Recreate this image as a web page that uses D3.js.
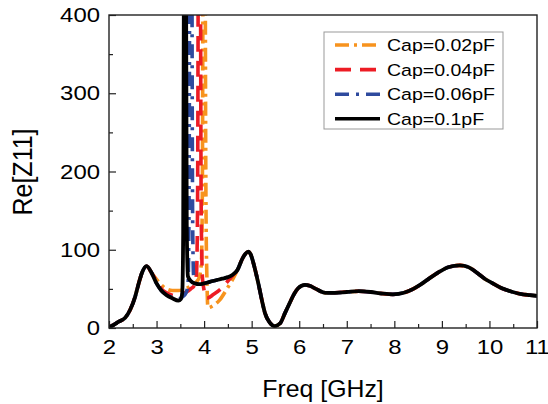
<!DOCTYPE html>
<html>
<head>
<meta charset="utf-8">
<script src="https://cdn.jsdelivr.net/npm/d3@7"></script>
<style>
  body { margin: 0; background: #fff; }
  svg { display: block; font-family: "Liberation Sans", Arial, sans-serif; }
</style>
</head>
<body>
<div id="chart"></div>
<script>
// shared parts of the curves (all four capacitances overlap here)
const headFreq = [2.0, 2.1, 2.2, 2.34, 2.45, 2.55, 2.62, 2.69, 2.79, 2.9]
const headZ    = [1, 4, 8, 13, 24, 40, 56, 70, 79, 70]

const tailFreq = [4.7, 4.8, 4.87, 4.93, 4.98, 5.05, 5.14, 5.22, 5.28, 5.38, 5.49, 5.6, 5.7, 5.8, 5.88, 5.98,
	6.12, 6.22, 6.35, 6.55, 6.75, 7.0, 7.25, 7.5, 7.75, 7.97, 8.2, 8.4, 8.54, 8.75, 8.95, 9.15, 9.38,
	9.55, 9.75, 9.9, 10.07, 10.25, 10.49, 10.7, 10.85, 11.0]
const tailZ    = [74, 88, 95, 97.5, 94, 80, 57, 34, 19, 7, 2.5, 6, 19, 32, 42, 51,
	55, 54, 50, 45, 45, 46, 47, 46, 44, 43, 45, 50, 55, 64, 72, 78, 80,
	78, 70, 63, 57, 51, 46, 43, 42, 41]

// resonance region, one per capacitance
const freq002 = [3.0, 3.1, 3.21, 3.33, 3.46, 3.6, 3.75, 3.88, 3.94, 3.96, 3.975, 4.0, 4.025, 4.04, 4.06, 4.08, 4.2, 4.33, 4.5, 4.6]
const z002    = [62, 55, 50, 48, 48, 50, 55, 62, 80, 150, 450, 2000, 450, 150, 60, 26, 29, 36, 52, 62]

const freq004 = [3.0, 3.1, 3.21, 3.33, 3.46, 3.6, 3.72, 3.8, 3.84, 3.86, 3.875, 3.9, 3.925, 3.94, 3.97, 4.06, 4.2, 4.37, 4.5, 4.6]
const z004    = [60, 50, 45, 42, 41, 45, 50, 55, 70, 140, 450, 2000, 450, 140, 60, 38, 43, 51, 60, 67]

const freq006 = [3.0, 3.1, 3.21, 3.33, 3.46, 3.55, 3.62, 3.66, 3.68, 3.695, 3.72, 3.745, 3.76, 3.78, 3.83, 3.9, 4.0, 4.12, 4.25, 4.38, 4.5, 4.6]
const z006    = [57, 48, 43, 39, 37, 40, 45, 55, 130, 450, 2000, 450, 130, 66, 57, 56, 57, 59, 61, 63, 65, 68]

const freq01  = [3.0, 3.1, 3.21, 3.33, 3.46, 3.51, 3.54, 3.56, 3.575, 3.6, 3.62, 3.635, 3.66, 3.72, 3.8, 3.9, 4.0, 4.12, 4.25, 4.38, 4.5, 4.6]
const z01     = [57, 48, 42, 38, 35, 37, 45, 120, 450, 2000, 450, 130, 66, 60, 57, 56, 57, 59, 61, 63, 65, 68]

const seriesNames = ['Cap=0.02pF', 'Cap=0.04pF', 'Cap=0.06pF', 'Cap=0.1pF']
const xTicks = [2, 3, 4, 5, 6, 7, 8, 9, 10, 11]
const yTicks = [0, 100, 200, 300, 400]

const width = 548, height = 404
const plotLeft = 109, plotRight = 537, plotTop = 15, plotBottom = 328
// the original figure is a little wider than tall, so text is stretched sideways
const stretch = 1.14

const svg = d3.select('#chart').append('svg')
	.attr('width', width)
	.attr('height', height)

const x = d3.scaleLinear().domain([2, 11]).range([plotLeft, plotRight])
const y = d3.scaleLinear().domain([0, 400]).range([plotBottom, plotTop])

const build = (f, z) => headFreq.map((d, i) => [d, headZ[i]])
	.concat(f.map((d, i) => [d, z[i]]))
	.concat(tailFreq.map((d, i) => [d, tailZ[i]]))

const series = [
	{ name: seriesNames[0], data: build(freq002, z002), color: '#f7931e', dash: '14,5,3,5' },
	{ name: seriesNames[1], data: build(freq004, z004), color: '#ed1c24', dash: '16,9' },
	{ name: seriesNames[2], data: build(freq006, z006), color: '#2e4a9e', dash: '14,7,3,7' },
	{ name: seriesNames[3], data: build(freq01, z01), color: '#000000', dash: null }
]

svg.append('clipPath').attr('id', 'plot-clip')
	.append('rect')
		.attr('x', plotLeft).attr('y', plotTop)
		.attr('width', plotRight - plotLeft).attr('height', plotBottom - plotTop)

// axes, ticks pointing inward
const xAxis = svg.append('g')
	.attr('transform', 'translate(0,' + plotBottom + ')')
	.call(d3.axisBottom(x).tickValues(xTicks).tickSize(-7).tickPadding(11).tickFormat(d3.format('d')))
xAxis.append('g')
	.call(d3.axisBottom(x).tickValues(d3.range(2.5, 11, 1)).tickSize(-4).tickFormat(''))

const yAxis = svg.append('g')
	.attr('transform', 'translate(' + plotLeft + ',0)')
	.call(d3.axisLeft(y).tickValues(yTicks).tickSize(-7).tickPadding(9))
yAxis.append('g')
	.call(d3.axisLeft(y).tickValues([50, 150, 250, 350]).tickSize(-4).tickFormat(''))

svg.selectAll('.domain').remove()
svg.selectAll('.tick line').attr('stroke', '#222').attr('stroke-width', 1.2)
svg.selectAll('.tick text')
	.style('font-size', '21px')
	.style('font-family', '"Liberation Sans", Arial, sans-serif')
	.attr('fill', '#000')
	.attr('transform', 'scale(' + stretch + ',1)')
yAxis.selectAll('.tick text').attr('x', -9 / stretch)

// curves
const line = d3.line()
	.x(d => x(d[0]))
	.y(d => y(d[1]))
	.curve(d3.curveMonotoneX)

svg.append('g')
	.attr('clip-path', 'url(#plot-clip)')
	.selectAll('path')
	.data(series)
	.enter()
	.append('path')
		.attr('d', d => line(d.data))
		.attr('fill', 'none')
		.attr('stroke', d => d.color)
		.attr('stroke-width', d => d.dash ? 3.6 : 3.8)
		.attr('stroke-dasharray', d => d.dash)
		.attr('stroke-linejoin', 'round')

// frame
svg.append('rect')
	.attr('x', plotLeft).attr('y', plotTop)
	.attr('width', plotRight - plotLeft).attr('height', plotBottom - plotTop)
	.attr('fill', 'none')
	.attr('stroke', '#222')
	.attr('stroke-width', 1.4)

// axis titles
svg.append('text')
	.attr('transform', 'translate(' + ((plotLeft + plotRight) / 2) + ',397) scale(1.08,1)')
	.attr('text-anchor', 'middle')
	.style('font-size', '23px')
	.text('Freq [GHz]')

svg.append('text')
	.attr('transform', 'translate(32,172) scale(' + stretch + ',1) rotate(-90)')
	.attr('text-anchor', 'middle')
	.style('font-size', '25px')
	.text('Re[Z11]')

// legend
const legend = svg.append('g').attr('class', 'legend')
legend.append('rect')
	.attr('x', 324).attr('y', 32)
	.attr('width', 179).attr('height', 97)
	.attr('fill', '#fff')
	.attr('stroke', '#999')
	.attr('stroke-width', 1)

const items = legend.selectAll('.item')
	.data(series)
	.enter()
	.append('g')
		.attr('class', 'item')
		.attr('transform', (d, i) => 'translate(0,' + (45 + i * 24.6) + ')')

items.append('line')
	.attr('x1', 335).attr('x2', 380)
	.attr('y1', 0).attr('y2', 0)
	.attr('stroke', d => d.color)
	.attr('stroke-width', 3.6)
	.attr('stroke-dasharray', d => d.dash)

items.append('text')
	.attr('transform', 'translate(387,6) scale(1.15,1)')
	.style('font-size', '17px')
	.text(d => d.name)
</script>
</body>
</html>
